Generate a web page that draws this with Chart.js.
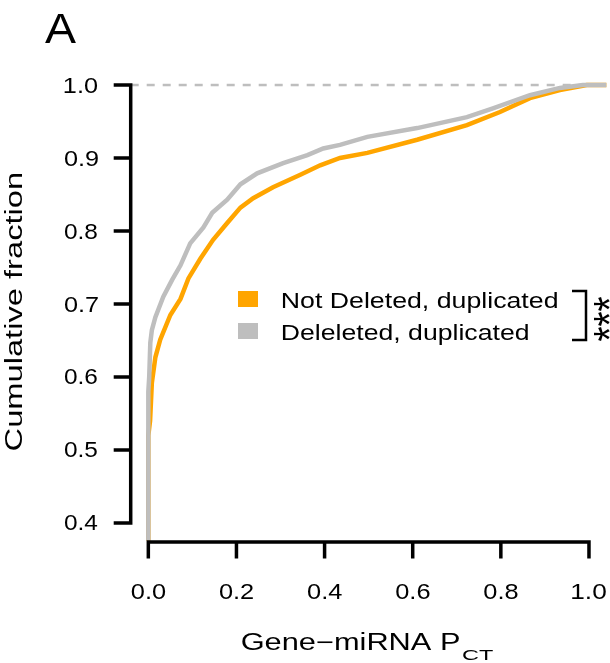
<!DOCTYPE html>
<html>
<head>
<meta charset="utf-8">
<script src="https://cdn.jsdelivr.net/npm/chart.js@4/dist/chart.umd.min.js"></script>
<style>
  html, body { margin: 0; padding: 0; background: #fff; }
  #wrap { width: 610px; height: 663px; }
</style>
</head>
<body>
<div id="wrap"><canvas id="ecdfChart" width="610" height="663"></canvas></div>
<script>
// values (ECDF of gene-miRNA P_CT)
const notDeletedX = [0, 0, 0.004, 0.008, 0.016, 0.027, 0.050, 0.073, 0.091, 0.118, 0.147, 0.179, 0.209, 0.238, 0.283, 0.345, 0.390, 0.435, 0.497, 0.610, 0.723, 0.798, 0.866, 0.934, 0.995, 1.04];
const notDeletedY = [0.30, 0.52, 0.540, 0.592, 0.627, 0.651, 0.685, 0.707, 0.735, 0.762, 0.788, 0.811, 0.832, 0.845, 0.860, 0.877, 0.890, 0.900, 0.907, 0.925, 0.945, 0.963, 0.982, 0.993, 1.0, 1.0];

const deletedX = [0, 0, 0.002, 0.0045, 0.008, 0.016, 0.034, 0.054, 0.073, 0.095, 0.125, 0.145, 0.179, 0.209, 0.247, 0.306, 0.361, 0.397, 0.435, 0.497, 0.610, 0.723, 0.782, 0.866, 0.934, 0.986, 1.04];
const deletedY = [0.30, 0.58, 0.600, 0.647, 0.664, 0.682, 0.710, 0.733, 0.753, 0.783, 0.805, 0.825, 0.843, 0.864, 0.879, 0.893, 0.904, 0.913, 0.918, 0.929, 0.941, 0.956, 0.968, 0.986, 0.996, 1.0, 1.0];

const xTicks = [0, 0.2, 0.4, 0.6, 0.8, 1.0];
const xTickLabels = ['0.0', '0.2', '0.4', '0.6', '0.8', '1.0'];
const yTicks = [0.4, 0.5, 0.6, 0.7, 0.8, 0.9, 1.0];
const yTickLabels = ['0.4', '0.5', '0.6', '0.7', '0.8', '0.9', '1.0'];

const seriesNames = ['Not Deleted, duplicated', 'Deleleted, duplicated'];
const seriesColors = ['#FFA500', '#BEBEBE'];

const FONT = '"Liberation Sans", Arial, Helvetica, sans-serif';

function toPoints(xs, ys) {
  return xs.map((x, i) => ({ x: x, y: ys[i] }));
}

// draws text stretched horizontally so its ink is inkW wide
function fitText(ctx, text, x, y, size, inkW, align, angle) {
  ctx.save();
  ctx.font = size + 'px ' + FONT;
  ctx.textAlign = 'left';
  ctx.textBaseline = 'alphabetic';
  const m = ctx.measureText(text);
  const ink = m.actualBoundingBoxLeft + m.actualBoundingBoxRight;
  const sx = inkW / ink;
  ctx.translate(x, y);
  if (angle) ctx.rotate(angle);
  ctx.scale(sx, 1);
  let dx = m.actualBoundingBoxLeft;
  if (align === 'center') dx -= ink / 2;
  if (align === 'right') dx -= ink;
  ctx.fillText(text, dx, 0);
  ctx.restore();
}

const refLine = {
  id: 'refLine',
  beforeDatasetsDraw(chart) {
    const ctx = chart.ctx;
    const area = chart.chartArea;
    const y = chart.scales.y.getPixelForValue(1.0);
    ctx.save();
    ctx.strokeStyle = '#BEBEBE';
    ctx.lineWidth = 2.5;
    ctx.setLineDash([8, 8]);
    ctx.beginPath();
    ctx.moveTo(area.left, y);
    ctx.lineTo(area.right, y);
    ctx.stroke();
    ctx.restore();
  }
};

const rAxes = {
  id: 'rAxes',
  afterDraw(chart) {
    const ctx = chart.ctx;
    const area = chart.chartArea;
    const xs = chart.scales.x;
    const ys = chart.scales.y;
    ctx.save();
    ctx.strokeStyle = '#000';
    ctx.fillStyle = '#000';
    ctx.lineWidth = 3.5;
    ctx.lineCap = 'butt';

    // y axis
    ctx.beginPath();
    ctx.moveTo(area.left, ys.getPixelForValue(yTicks[0]) + 1.75);
    ctx.lineTo(area.left, ys.getPixelForValue(yTicks[yTicks.length - 1]) - 1.75);
    yTicks.forEach(v => {
      const py = ys.getPixelForValue(v);
      ctx.moveTo(area.left, py);
      ctx.lineTo(area.left - 17, py);
    });
    ctx.stroke();
    yTicks.forEach((v, i) => {
      fitText(ctx, yTickLabels[i], 98, ys.getPixelForValue(v) + 7.5, 21.5, 34, 'right');
    });

    // x axis
    ctx.beginPath();
    ctx.moveTo(xs.getPixelForValue(xTicks[0]) - 1.75, area.bottom + 1.5);
    ctx.lineTo(xs.getPixelForValue(xTicks[xTicks.length - 1]) + 1.75, area.bottom + 1.5);
    xTicks.forEach(v => {
      const px = xs.getPixelForValue(v);
      ctx.moveTo(px, area.bottom + 1.5);
      ctx.lineTo(px, area.bottom + 18);
    });
    ctx.stroke();
    xTicks.forEach((v, i) => {
      fitText(ctx, xTickLabels[i], xs.getPixelForValue(v), 599, 22, 35, 'center');
    });

    // axis titles
    fitText(ctx, 'Gene\u2212miRNA P', 242, 650, 23, 218, 'left');
    fitText(ctx, 'CT', 462, 660, 15, 31, 'left');
    fitText(ctx, 'Cumulative fraction', 22, 311.5, 23, 277, 'center', -Math.PI / 2);

    // panel letter
    fitText(ctx, 'A', 45, 43, 42, 31, 'left');

    // legend
    const rows = [299, 331];
    const widths = [275, 246];
    seriesNames.forEach((name, i) => {
      ctx.fillStyle = seriesColors[i];
      ctx.fillRect(238, rows[i] - 8, 20, 16);
      ctx.fillStyle = '#000';
      fitText(ctx, name, 282, rows[i] + 9, 22, widths[i], 'left');
    });

    // significance bracket
    ctx.lineWidth = 2.5;
    ctx.beginPath();
    ctx.moveTo(572, 291);
    ctx.lineTo(586, 291);
    ctx.lineTo(586, 340);
    ctx.lineTo(572, 340);
    ctx.stroke();
    fitText(ctx, '***', 625, 319, 44, 45, 'center', -Math.PI / 2);

    ctx.restore();
  }
};

const ctx = document.getElementById('ecdfChart').getContext('2d');
new Chart(ctx, {
  type: 'scatter',
  data: {
    datasets: [
      {
        label: seriesNames[1],
        data: toPoints(deletedX, deletedY),
        borderColor: seriesColors[1],
        borderWidth: 4.5,
        showLine: true,
        pointRadius: 0,
        tension: 0
      },
      {
        label: seriesNames[0],
        data: toPoints(notDeletedX, notDeletedY),
        borderColor: seriesColors[0],
        borderWidth: 4.5,
        showLine: true,
        pointRadius: 0,
        tension: 0
      }
    ]
  },
  options: {
    responsive: false,
    animation: false,
    devicePixelRatio: 1,
    layout: { padding: { left: 130.7, right: 3.4, top: 67.5, bottom: 122.5 } },
    scales: {
      x: { type: 'linear', min: -0.04, max: 1.04, display: false },
      y: { type: 'linear', min: 0.376, max: 1.024, display: false }
    },
    plugins: {
      legend: { display: false },
      tooltip: { enabled: false }
    }
  },
  plugins: [refLine, rAxes]
});
</script>
</body>
</html>
